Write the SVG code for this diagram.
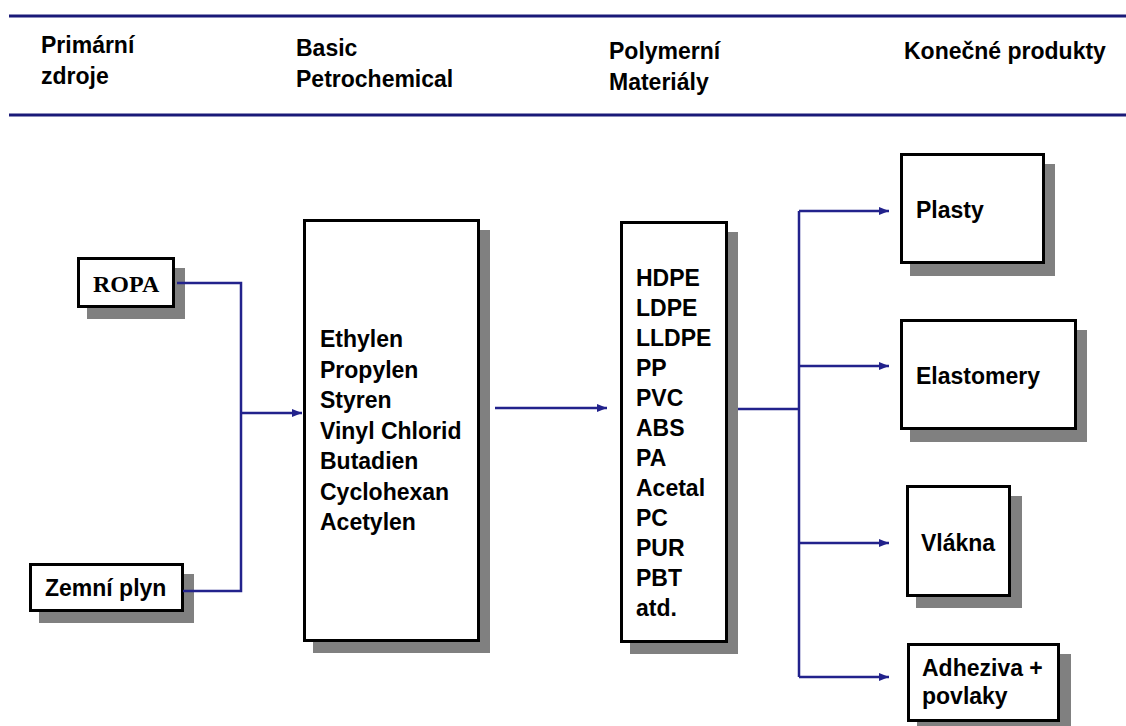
<svg xmlns="http://www.w3.org/2000/svg" width="1126" height="726" viewBox="0 0 1126 726">
<style>
.t{font-family:"Liberation Sans",Arial,sans-serif;font-weight:bold;font-size:23px;fill:#000}
.s{font-family:"Liberation Serif","Times New Roman",serif;font-weight:bold;font-size:24px;fill:#000}
.box{fill:#fff;stroke:#000;stroke-width:3}
.sh{fill:#808080}
.rule{stroke:#1a1a78;stroke-width:3}
.c{fill:none;stroke:#22228c;stroke-width:2.5}
</style>
<defs>
<marker id="ah" markerWidth="11" markerHeight="9" refX="10" refY="4.5" orient="auto" markerUnits="userSpaceOnUse">
<path d="M0,0.5 L10,4.5 L0,8.5 Z" fill="#22228c"/>
</marker>
</defs>
<rect width="1126" height="726" fill="#fff"/>
<g id="header">
<line class="rule" x1="9" y1="16" x2="1126" y2="16"/>
<line class="rule" x1="9" y1="115" x2="1126" y2="115"/>
<text class="t" x="41" y="53">Primární</text>
<text class="t" x="41" y="84">zdroje</text>
<text class="t" x="296" y="56">Basic</text>
<text class="t" x="296" y="87">Petrochemical</text>
<text class="t" x="609" y="59">Polymerní</text>
<text class="t" x="609" y="90">Materiály</text>
<text class="t" x="904" y="59">Konečné produkty</text>
</g>
<g id="ropa">
<rect class="sh" x="87" y="268" width="98" height="51"/>
<rect class="box" x="78.5" y="258.5" width="95" height="48"/>
<text class="s" x="93" y="292">ROPA</text>
</g>
<g id="zemni-plyn">
<rect class="sh" x="39" y="574" width="155" height="49"/>
<rect class="box" x="30.5" y="564.5" width="152" height="46"/>
<text class="t" x="45" y="596">Zemní plyn</text>
</g>
<g id="basic">
<rect class="sh" x="313" y="230" width="177" height="423"/>
<rect class="box" x="304.5" y="220.5" width="174" height="420"/>
<text class="t" x="320" y="347">Ethylen</text>
<text class="t" x="320" y="377.5">Propylen</text>
<text class="t" x="320" y="408">Styren</text>
<text class="t" x="320" y="438.5">Vinyl Chlorid</text>
<text class="t" x="320" y="469">Butadien</text>
<text class="t" x="320" y="499.5">Cyclohexan</text>
<text class="t" x="320" y="530">Acetylen</text>
</g>
<g id="polymer">
<rect class="sh" x="630" y="232" width="108" height="422"/>
<rect class="box" x="621.5" y="222.5" width="105" height="419"/>
<text class="t" x="636" y="286">HDPE</text>
<text class="t" x="636" y="316">LDPE</text>
<text class="t" x="636" y="346">LLDPE</text>
<text class="t" x="636" y="376">PP</text>
<text class="t" x="636" y="406">PVC</text>
<text class="t" x="636" y="436">ABS</text>
<text class="t" x="636" y="466">PA</text>
<text class="t" x="636" y="496">Acetal</text>
<text class="t" x="636" y="526">PC</text>
<text class="t" x="636" y="556">PUR</text>
<text class="t" x="636" y="586">PBT</text>
<text class="t" x="636" y="616">atd.</text>
</g>
<g id="plasty">
<rect class="sh" x="910" y="164" width="145" height="112"/>
<rect class="box" x="901.5" y="154.5" width="142" height="108"/>
<text class="t" x="916" y="218">Plasty</text>
</g>
<g id="elastomery">
<rect class="sh" x="910" y="330" width="177" height="112"/>
<rect class="box" x="901.5" y="320.5" width="174" height="108"/>
<text class="t" x="916" y="384">Elastomery</text>
</g>
<g id="vlakna">
<rect class="sh" x="916" y="496" width="106" height="112"/>
<rect class="box" x="907.5" y="486.5" width="102" height="109"/>
<text class="t" x="921" y="551">Vlákna</text>
</g>
<g id="adheziva">
<rect class="sh" x="917" y="654" width="154" height="80"/>
<rect class="box" x="908.5" y="644.5" width="150" height="76"/>
<text class="t" x="922" y="676">Adheziva +</text>
<text class="t" x="922" y="704">povlaky</text>
</g>
<g id="connectors">
<polyline class="c" points="177,283 241,283 241,591 183,591"/>
<line class="c" x1="241" y1="413" x2="302" y2="413" marker-end="url(#ah)"/>
<line class="c" x1="495" y1="408" x2="607" y2="408" marker-end="url(#ah)"/>
<line class="c" x1="738" y1="409" x2="799" y2="409"/>
<line class="c" x1="799" y1="211" x2="799" y2="677"/>
<line class="c" x1="799" y1="211" x2="889" y2="211" marker-end="url(#ah)"/>
<line class="c" x1="799" y1="366" x2="889" y2="366" marker-end="url(#ah)"/>
<line class="c" x1="799" y1="543" x2="889" y2="543" marker-end="url(#ah)"/>
<line class="c" x1="799" y1="677" x2="889" y2="677" marker-end="url(#ah)"/>
</g>
</svg>
